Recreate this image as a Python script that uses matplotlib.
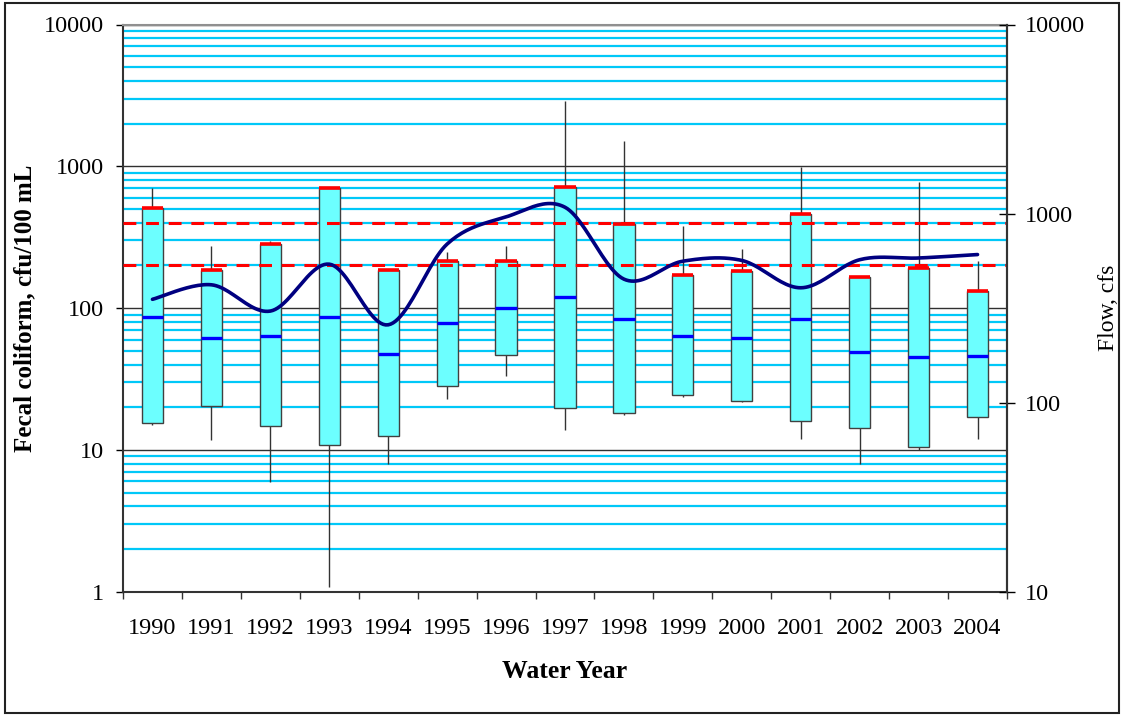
import numpy as np
import matplotlib.pyplot as plt
from matplotlib.patches import Rectangle
from matplotlib.ticker import FixedLocator, NullFormatter

plt.rcParams['font.family'] = ['Liberation Serif', 'DejaVu Serif']

# fecal coliform summary per water year (cfu/100 mL)
years = ['1990', '1991', '1992', '1993', '1994', '1995', '1996', '1997',
         '1998', '1999', '2000', '2001', '2002', '2003', '2004']
whisker_hi = [700, 275, 299, 705, 187, 248, 276, 2910, 1520, 382, 259, 985, 167, 772, 216]
box_hi = [510, 187, 284, 705, 187, 216, 216, 720, 393, 171, 182, 462, 167, 192, 131]
median = [87, 62, 64, 87, 47.5, 79, 100, 120, 84, 64, 62, 84, 49, 45, 46]
box_lo = [15.6, 20.3, 14.7, 10.8, 12.6, 28.4, 47, 19.8, 18.1, 24.5, 22.3, 16.1, 14.3, 10.5, 17.0]
whisker_lo = [15.1, 11.8, 5.9, 1.08, 8.0, 22.9, 33, 13.8, 17.6, 23.7, 21.6, 11.9, 8.0, 10.0, 11.9]

# mean flow per water year (cfs)
flow = [352, 420, 305, 540, 258, 690, 960, 1080, 450, 560, 565, 405, 570, 582, 607]

standards = [200, 400]


def smooth(xs, ys, n=24):
    """Catmull-Rom curve through the points, like a smoothed Excel line."""
    xs = np.asarray(xs, float)
    ys = np.asarray(ys, float)
    px = np.concatenate([[xs[0]], xs, [xs[-1]]])
    py = np.concatenate([[ys[0]], ys, [ys[-1]]])
    out_x, out_y = [], []
    t = np.linspace(0, 1, n, endpoint=False)
    for i in range(1, len(px) - 2):
        for p, out in ((px, out_x), (py, out_y)):
            p0, p1, p2, p3 = p[i - 1], p[i], p[i + 1], p[i + 2]
            out.extend(0.5 * (2 * p1 + (-p0 + p2) * t
                              + (2 * p0 - 5 * p1 + 4 * p2 - p3) * t ** 2
                              + (-p0 + 3 * p1 - 3 * p2 + p3) * t ** 3))
    out_x.append(xs[-1])
    out_y.append(ys[-1])
    return np.array(out_x), np.array(out_y)


fig = plt.figure(figsize=(11.23, 7.15), dpi=100)
ax = fig.add_axes([123 / 1123, 1 - 591.7 / 715, 884 / 1123, 567.2 / 715])

x = np.arange(len(years))
w = 0.36

ax.vlines(x, whisker_lo, whisker_hi, color='#333333', lw=1, zorder=3)
ax.bar(x, np.array(box_hi) - np.array(box_lo), bottom=box_lo, width=w,
       color='#6CFFFF', edgecolor='#404040', lw=1, zorder=4)
ax.hlines(box_hi, x - w / 2, x + w / 2, color='#FF0000', lw=2.6, zorder=5)
ax.hlines(median, x - w / 2, x + w / 2, color='#0000FF', lw=2.4, zorder=5)
for s in standards:
    ax.axhline(s, color='#FF0000', lw=2.2, ls=(0, (4.2, 3.2)), zorder=6)

ax.set_yscale('log')
ax.set_ylim(1, 10000)
ax.set_xlim(-0.5, len(years) - 0.5)
ax.yaxis.set_major_locator(FixedLocator([1, 10, 100, 1000, 10000]))
ax.yaxis.set_major_formatter(plt.FuncFormatter(lambda v, p: f'{v:.0f}'))
minor = [k * d for d in (1, 10, 100, 1000) for k in range(2, 10)]
ax.yaxis.set_minor_locator(FixedLocator(minor))
ax.yaxis.set_minor_formatter(NullFormatter())
ax.grid(axis='y', which='minor', color='#00C8F8', lw=1.6, zorder=0)
ax.grid(axis='y', which='major', color='#303030', lw=1.0, zorder=0)
ax.set_axisbelow(True)

ax.set_xticks(x)
ax.set_xticklabels(years)
ax.xaxis.set_minor_locator(FixedLocator(np.arange(len(years) + 1) - 0.5))
ax.tick_params(axis='x', which='major', length=0, pad=19, labelsize=17.5)
ax.tick_params(axis='x', which='minor', length=5, width=1, color='#333333')
ax.tick_params(axis='y', which='major', length=5, width=1, pad=9, labelsize=17.5)
ax.tick_params(axis='y', which='minor', length=0)

ax.set_xlabel('Water Year', fontsize=18.5, fontweight='bold', labelpad=15)
ax.set_ylabel('Fecal coliform, cfu/100 mL', fontsize=18, fontweight='bold', labelpad=5)

for side in ('left', 'right', 'bottom'):
    ax.spines[side].set_color('#333333')
    ax.spines[side].set_linewidth(1.5)
ax.spines['top'].set_color('#909090')
ax.spines['top'].set_linewidth(1.5)

# flow on the secondary axis
ax2 = ax.twinx()
ax2.set_yscale('log')
ax2.set_ylim(10, 10000)
sx, sy = smooth(x, np.log10(flow))
ax2.plot(sx, 10 ** sy, color='#000080', lw=2.6, solid_capstyle='round', zorder=7)
ax2.yaxis.set_major_locator(FixedLocator([10, 100, 1000, 10000]))
ax2.yaxis.set_major_formatter(plt.FuncFormatter(lambda v, p: f'{v:.0f}'))
ax2.yaxis.set_minor_locator(FixedLocator([]))
ax2.tick_params(axis='y', direction='inout', length=11, width=1, pad=7, labelsize=17.5)
ax2.set_ylabel('Flow, cfs', fontsize=17, labelpad=10)
for side in ax2.spines:
    ax2.spines[side].set_visible(False)
ax2.spines['right'].set_visible(True)
ax2.spines['right'].set_color('#333333')
ax2.spines['right'].set_linewidth(1.5)

# outer chart frame
fig.patches.append(Rectangle((5 / 1123, 2 / 715), 1114 / 1123, 710 / 715,
                             transform=fig.transFigure, fill=False,
                             edgecolor='#222222', lw=1.5))

fig.savefig('out.png', dpi=100)
